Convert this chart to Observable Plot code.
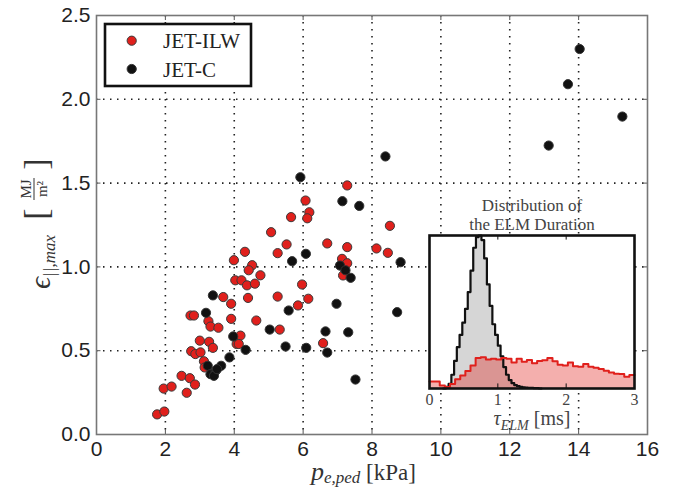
<!DOCTYPE html>
<html><head><meta charset="utf-8">
<script src="https://cdn.jsdelivr.net/npm/d3@7"></script>
<script src="https://cdn.jsdelivr.net/npm/@observablehq/plot@0.6"></script>
<style>
body{margin:0;background:#fff;}
#wrap{position:relative;width:675px;height:488px;}
#wrap svg{position:absolute;}
</style></head><body><div id="wrap"></div>
<script>
// ---- Data ----
const seriesNames = ["JET-ILW", "JET-C"];
const ilwPressure = [1.76,1.97,1.95,2.18,2.47,2.71,2.86,2.62,2.73,2.83,2.75,2.87,3.02,3.0,3.12,3.14,3.25,3.31,3.54,3.27,3.38,3.68,3.91,3.91,3.99,4.31,4.52,4.42,4.03,4.21,4.37,4.6,4.40,4.64,4.18,4.07,4.13,4.76,6.07,6.18,6.12,5.65,5.07,5.52,5.26,6.70,5.26,5.97,6.15,5.85,5.32,6.58,7.28,7.28,8.52,8.13,8.46,7.13,7.28,7.16];
const ilwEnergy   = [0.12,0.137,0.274,0.286,0.35,0.336,0.298,0.249,0.71,0.71,0.497,0.48,0.49,0.56,0.437,0.40,0.676,0.644,0.637,0.553,0.517,0.82,0.78,0.69,1.04,1.09,1.01,0.98,0.92,0.92,0.89,0.9,0.815,0.68,0.59,0.54,0.54,0.95,1.396,1.326,1.29,1.297,1.207,1.134,1.082,1.14,0.823,0.895,0.81,0.77,0.626,0.545,1.486,1.118,1.245,1.11,1.084,1.048,1.022,0.949];
const cPressure = [3.38,3.18,3.97,4.33,3.86,3.23,3.31,3.46,3.62,3.41,3.5,5.92,6.08,5.68,5.58,5.03,6.65,5.49,6.09,6.70,8.39,7.14,7.63,8.83,7.07,7.23,7.38,6.97,8.73,7.31,7.52,14.03,13.69,15.27,13.13];
const cEnergy   = [0.83,0.726,0.585,0.505,0.46,0.41,0.36,0.38,0.41,0.35,0.39,1.535,1.078,1.034,0.74,0.626,0.615,0.525,0.517,0.489,1.659,1.392,1.364,1.028,1.008,0.98,0.935,0.78,0.73,0.61,0.328,2.30,2.09,1.897,1.724];
const xTicks = [0,2,4,6,8,10,12,14,16];
const yTicks = [0,0.5,1.0,1.5,2.0,2.5];

// Inset: ELM duration distributions (bin left edges, relative counts)
const insetTicks = [0,1,2,3];
const cBinEdges = [0.20,0.24,0.28,0.32,0.36,0.40,0.44,0.48,0.52,0.56,0.60,0.64,0.68,0.72,0.76,0.80,0.84,0.88,0.92,0.96,1.00,1.04,1.08,1.12,1.16,1.20,1.24,1.28,1.32,1.36,1.40,1.44,1.48,1.52,1.56,1.60,1.64];
const cCounts   = [0.0,0.01,0.03,0.09,0.18,0.27,0.35,0.43,0.52,0.63,0.77,0.92,0.99,1.0,0.97,0.85,0.68,0.54,0.42,0.35,0.28,0.21,0.14,0.09,0.055,0.035,0.022,0.015,0.01,0.008,0.006,0.005,0.004,0.003,0.002,0.0,0.0];
const ilwBinEdges = [0,0.075,0.15,0.225,0.3,0.375,0.45,0.525,0.6,0.675,0.75,0.825,0.9,0.975,1.05,1.125,1.2,1.275,1.35,1.425,1.5,1.575,1.65,1.725,1.8,1.875,1.95,2.025,2.1,2.175,2.25,2.325,2.4,2.475,2.55,2.625,2.7,2.775,2.85,2.925,3.0];
const ilwCounts   = [0.045,0.045,0.02,0.01,0.03,0.06,0.085,0.115,0.15,0.20,0.205,0.19,0.195,0.19,0.20,0.195,0.17,0.195,0.175,0.186,0.165,0.18,0.185,0.199,0.178,0.155,0.15,0.17,0.145,0.142,0.16,0.142,0.135,0.127,0.116,0.105,0.097,0.094,0.077,0.088,0.088];

const ilw = ilwPressure.map((p,i)=>({p, e: ilwEnergy[i]}));
const jc  = cPressure.map((p,i)=>({p, e: cEnergy[i]}));
const cHist = cBinEdges.map((t,i)=>({t, v: cCounts[i]}));
const ilwHist = ilwBinEdges.map((t,i)=>({t, v: ilwCounts[i]}));

const RED = "#e0201c", DARK = "#111";
const serif = "'Liberation Serif','DejaVu Serif',serif";
const wrap = document.getElementById("wrap");

// ---- Main scatter plot ----
const gridStyle = {stroke:"#222", strokeOpacity:1, strokeWidth:1.6, strokeDasharray:"1.5,5.5"};
const main = Plot.plot({
  width: 675, height: 488,
  marginLeft: 96, marginRight: 28, marginTop: 15, marginBottom: 54,
  style: {fontFamily: "'Liberation Sans',Arial,sans-serif", fontSize: "21px", color: "#222", background: "white"},
  x: {domain: [0,16], ticks: xTicks, tickSize: 0, tickPadding: 7, label: null},
  y: {domain: [0,2.5], ticks: yTicks, tickSize: 0, tickPadding: 6, label: null, tickFormat: d3.format(".1f")},
  marks: [
    Plot.gridX(xTicks.slice(1,-1), gridStyle),
    Plot.gridY(yTicks.slice(1,-1), gridStyle),
    Plot.ruleX(xTicks, {y1: 0, y2: 0.03, stroke: "#555"}),
    Plot.ruleX(xTicks, {y1: 2.47, y2: 2.5, stroke: "#555"}),
    Plot.ruleY(yTicks, {x1: 0, x2: 0.13, stroke: "#555"}),
    Plot.ruleY(yTicks, {x1: 15.87, x2: 16, stroke: "#555"}),
    Plot.dot(ilw, {x: "p", y: "e", r: 4.6, fill: RED, stroke: "#3a3a3a", strokeWidth: 1}),
    Plot.dot(jc, {x: "p", y: "e", r: 4.6, fill: DARK, stroke: "#333", strokeWidth: 1}),
    Plot.frame({stroke: "#777", strokeWidth: 1.6})
  ]
});
main.style.left = "0px"; main.style.top = "0px";
wrap.appendChild(main);

const svg = d3.select(main);
// Legend
const lg = svg.append("g").attr("text-anchor","start");
lg.append("rect").attr("x",105).attr("y",24).attr("width",146).attr("height",62)
  .attr("fill","white").attr("stroke","#111").attr("stroke-width",2.6);
[[RED,"#3a3a3a",40.7],[DARK,"#333",69]].forEach(([f,s,y],i)=>{
  lg.append("circle").attr("cx",131.7).attr("cy",y).attr("r",4.6).attr("fill",f).attr("stroke",s);
  lg.append("text").attr("x",163).attr("y",y+7.5).attr("text-anchor","start").attr("font-family",serif).attr("font-size",21)
    .attr("fill","#222").text(seriesNames[i]);
});
// X label
const xl = svg.append("text").attr("x",311).attr("y",480).attr("text-anchor","start").attr("font-family",serif).attr("fill","#333").attr("font-size",23);
xl.append("tspan").attr("font-style","italic").attr("font-size",26).text("p");
xl.append("tspan").attr("font-style","italic").attr("font-size",17).attr("dy",3).text("e,ped");
xl.append("tspan").attr("dy",-3).text(" [kPa]");
// Y label (rotated)
const yg = svg.append("g").attr("transform","translate(50,228) rotate(-90)").attr("font-family",serif).attr("fill","#333");
const yt = yg.append("text").attr("x",-61).attr("y",0).attr("text-anchor","start").attr("font-size",30);
yt.append("tspan").attr("font-style","italic").text("ϵ");
yt.append("tspan").attr("font-style","italic").attr("font-size",17).attr("dy",5).text("||,max");
yg.append("text").attr("x",14).attr("y",-3).attr("font-size",34).attr("text-anchor","middle").text("[");
yg.append("text").attr("x",64).attr("y",-3).attr("font-size",34).attr("text-anchor","middle").text("]");
yg.append("text").attr("x",39).attr("y",-19).attr("font-size",15).attr("text-anchor","middle").text("MJ");
yg.append("line").attr("x1",28).attr("x2",50).attr("y1",-16).attr("y2",-16).attr("stroke","#333").attr("stroke-width",1);
yg.append("text").attr("x",39).attr("y",-3).attr("font-size",15).attr("text-anchor","middle").text("m²");

// ---- Inset histogram ----
const inset = Plot.plot({
  width: 250, height: 240,
  marginLeft: 25, marginRight: 20, marginTop: 39, marginBottom: 48,
  style: {fontFamily: serif, fontSize: "16px", color: "#444", background: "transparent"},
  x: {domain: [0,3], ticks: insetTicks, tickSize: 0, tickPadding: 5, label: null, tickFormat: d3.format("d")},
  y: {domain: [0,1], axis: null},
  marks: [
    Plot.frame({fill: "white", stroke: "none"}),
    Plot.areaY(cHist, {x: "t", y: "v", curve: "step-after", fill: "#d6d6d6"}),
    Plot.areaY(ilwHist, {x: "t", y: "v", curve: "step-after", fill: RED, fillOpacity: 0.36}),
    Plot.lineY(cHist, {x: "t", y: "v", curve: "step-after", stroke: "#111", strokeWidth: 2.2}),
    Plot.lineY(ilwHist, {x: "t", y: "v", curve: "step-after", stroke: RED, strokeWidth: 2}),
    Plot.ruleX(insetTicks.slice(1,-1), {y1: 0, y2: 0.03, stroke: "#111"}),
    Plot.ruleX(insetTicks.slice(1,-1), {y1: 0.97, y2: 1, stroke: "#111"}),
    Plot.frame({stroke: "#111", strokeWidth: 2.6})
  ]
});
inset.style.left = "404px"; inset.style.top = "196px";
wrap.appendChild(inset);
const isv = d3.select(inset);
isv.append("text").attr("x",128).attr("y",15).attr("text-anchor","middle").attr("font-family",serif)
  .attr("font-size",17).attr("fill","#444").text("Distribution of");
isv.append("text").attr("x",128).attr("y",34).attr("text-anchor","middle").attr("font-family",serif)
  .attr("font-size",17).attr("fill","#444").text("the ELM Duration");
const tl = isv.append("text").attr("x",128).attr("y",229).attr("text-anchor","middle").attr("font-family",serif)
  .attr("font-size",20).attr("fill","#444");
tl.append("tspan").attr("font-style","italic").text("τ");
tl.append("tspan").attr("font-style","italic").attr("font-size",14).attr("dy",5).text("ELM");
tl.append("tspan").attr("dy",-5).text(" [ms]");
</script></body></html>
